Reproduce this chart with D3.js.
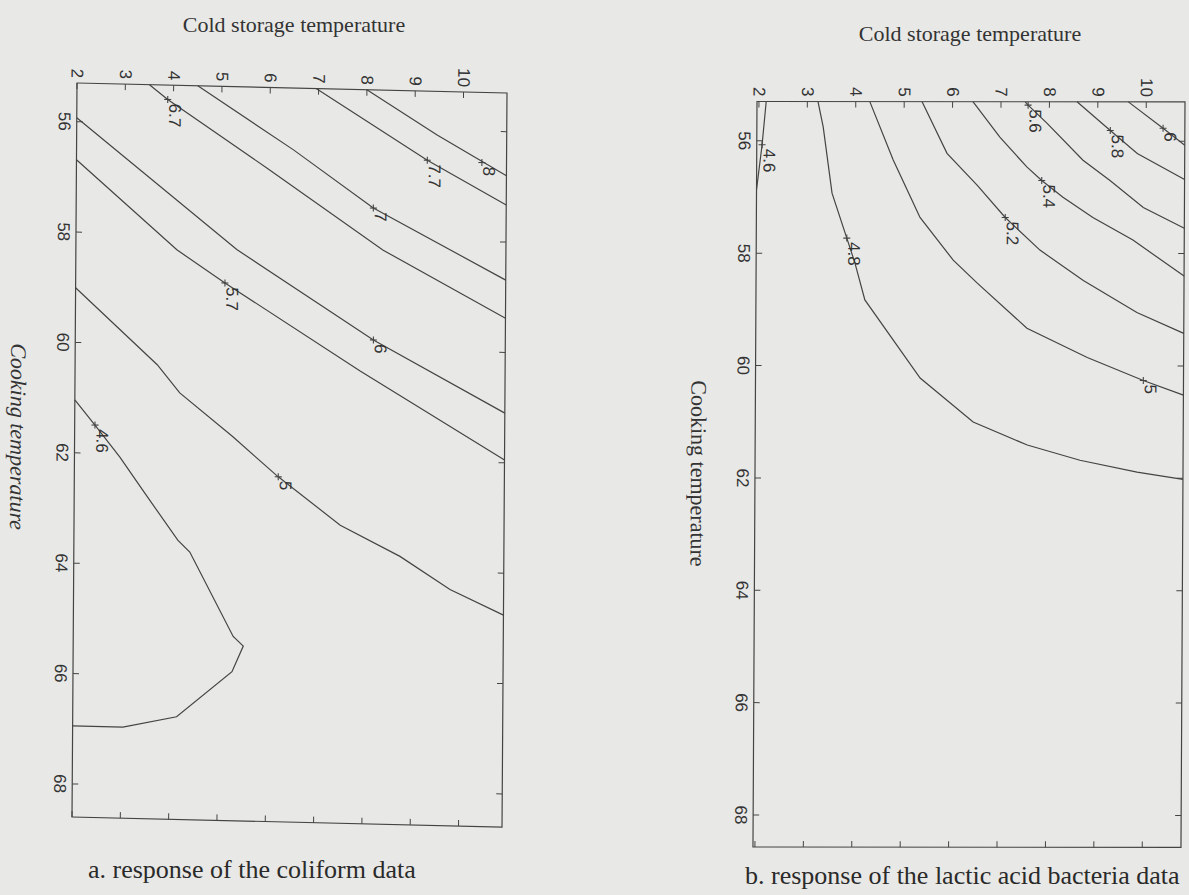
<!DOCTYPE html>
<html><head><meta charset="utf-8">
<script src="https://cdn.jsdelivr.net/npm/d3@7"></script>
<style>body{margin:0;background:#e8e8e6}svg{display:block}</style></head>
<body><svg id="c" width="1189" height="895"></svg>
<script>
// ---- data (cooking temperature, cold storage temperature) ----
const coldTicks = [2,3,4,5,6,7,8,9,10];
const cookTicks = [56,58,60,62,64,66,68];

// a. coliform contours
const coli_8   = [[55.3,8.0],[56.09,9.46],[56.8,10.9]];
const coli_7_7 = [[55.3,6.95],[56.55,9.26],[57.33,10.9]];
const coli_7   = [[55.3,4.5],[56.42,6.49],[57.44,8.15],[58.69,10.9]];
const coli_6_7 = [[55.3,3.5],[55.56,3.88],[56.76,5.94],[58.2,8.36],[59.38,10.9]];
const coli_6   = [[55.93,2],[58.25,5.33],[59.83,8.17],[61.1,10.9]];
const coli_5_7 = [[56.69,2],[58.28,4.09],[58.86,5.09],[60.4,7.9],[61.95,10.9]];
const coli_5   = [[59.01,2],[60.37,3.7],[60.87,4.17],[61.64,5.27],[62.35,6.22],[63.2,7.51],[63.74,8.75],[64.32,9.79],[64.76,10.9]];
const coli_4_6 = [[61.04,2],[61.49,2.42],[62.06,2.94],[62.64,3.41],[63.54,4.15],[63.75,4.4],[65.26,5.31],[65.43,5.52],[65.9,5.29],[66.74,4.15],[66.95,3.04],[66.95,2]];
const coliLines = [coli_8, coli_7_7, coli_7, coli_6_7, coli_6, coli_5_7, coli_5, coli_4_6];
const coliLabels = [
  {t:"8",   p:[56.57,10.39]}, {t:"7.7", p:[56.55,9.26]}, {t:"7", p:[57.44,8.15]},
  {t:"6.7", p:[55.56,3.88]},  {t:"6",   p:[59.83,8.17]}, {t:"5.7", p:[58.86,5.09]},
  {t:"5",   p:[62.35,6.22]},  {t:"4.6", p:[61.49,2.42]}
];

// b. lactic acid bacteria contours
const lab_4_6 = [[55.3,2.15],[56.07,2.07],[56.87,1.96]];
const lab_4_8 = [[55.3,3.22],[55.75,3.33],[56.93,3.52],[57.73,3.83],[58.17,4.0],[58.83,4.21],[60.22,5.36],[61.0,6.46],[61.41,7.58],[61.68,8.67],[61.89,9.85],[62.02,10.8]];
const lab_5_0 = [[55.3,4.29],[56.34,4.78],[57.05,5.17],[57.36,5.34],[58.12,6.03],[58.53,6.53],[59.33,7.56],[59.85,8.81],[60.26,9.97],[60.52,10.8]];
const lab_5_2 = [[55.3,5.37],[56.22,5.89],[56.79,6.52],[57.36,7.1],[57.94,7.82],[58.48,8.72],[59.05,9.83],[59.42,10.8]];
const lab_5_4 = [[55.3,6.42],[55.93,6.98],[56.46,7.54],[56.7,7.85],[57.0,8.29],[57.36,8.91],[57.76,9.74],[58.4,10.8]];
const lab_5_6 = [[55.3,7.5],[55.36,7.56],[55.68,7.95],[56.34,8.7],[56.7,9.26],[57.18,9.95],[57.55,10.8]];
const lab_5_8 = [[55.3,8.57],[55.81,9.26],[56.22,9.82],[56.68,10.8]];
const lab_6_0 = [[55.3,9.63],[55.77,10.35],[56.07,10.8]];
const labLines = [lab_4_6, lab_4_8, lab_5_0, lab_5_2, lab_5_4, lab_5_6, lab_5_8, lab_6_0];
const labLabels = [
  {t:"4.6", p:[56.07,2.07]}, {t:"4.8", p:[57.73,3.83]}, {t:"5",   p:[60.26,9.97]},
  {t:"5.2", p:[57.36,7.1]},  {t:"5.4", p:[56.7,7.85]},  {t:"5.6", p:[55.36,7.56]},
  {t:"5.8", p:[55.81,9.26]}, {t:"6",   p:[55.77,10.35]}
];

const xTitle = "Cold storage temperature";
const yTitle = "Cooking temperature";
const captions = ["a. response of the coliform data", "b. response of the lactic acid bacteria data"];

// ---- drawing ----
const svg = d3.select("#c");
const INK = "#444";
const sans = "'Liberation Sans', Arial, sans-serif";
const serif = "'Liberation Serif', 'Times New Roman', serif";

function panel(cfg) {
  const g = svg.append("g")
    .attr("transform", `matrix(1,${cfg.b},${cfg.c},1,${cfg.X0},${cfg.Y0})`);
  const x = d3.scaleLinear().domain(cfg.coldDom).range([0, cfg.W]);
  const y = d3.scaleLinear().domain(cfg.cookDom).range([0, cfg.H]);

  g.append("rect").attr("width", cfg.W).attr("height", cfg.H)
    .attr("fill", "none").attr("stroke", INK).attr("stroke-width", 1.2);

  const tk = 6;
  coldTicks.forEach(t => {
    g.append("line").attr("x1", x(t)).attr("x2", x(t)).attr("y1", 0).attr("y2", tk)
      .attr("stroke", INK).attr("stroke-width", 1);
    g.append("line").attr("x1", x(t)).attr("x2", x(t)).attr("y1", cfg.H).attr("y2", cfg.H - tk)
      .attr("stroke", INK).attr("stroke-width", 1);
    g.append("text").attr("transform", `translate(${x(t)},-5) rotate(90)`)
      .attr("text-anchor", "end").attr("dominant-baseline", "central")
      .attr("font-family", sans).attr("font-size", 17).attr("fill", "#333").text(t);
  });
  cookTicks.forEach(t => {
    g.append("line").attr("x1", 0).attr("x2", tk).attr("y1", y(t)).attr("y2", y(t))
      .attr("stroke", INK).attr("stroke-width", 1);
    g.append("line").attr("x1", cfg.W).attr("x2", cfg.W - tk).attr("y1", y(t)).attr("y2", y(t))
      .attr("stroke", INK).attr("stroke-width", 1);
    g.append("text").attr("transform", `translate(-18,${y(t)}) rotate(90)`)
      .attr("text-anchor", "middle")
      .attr("font-family", sans).attr("font-size", 17).attr("fill", "#333").text(t);
  });

  const line = d3.line().x(d => x(d[1])).y(d => y(d[0]));
  g.selectAll("path.ct").data(cfg.lines).enter().append("path").attr("class", "ct")
    .attr("d", line).attr("fill", "none").attr("stroke", INK).attr("stroke-width", 1.2);

  cfg.labels.forEach(l => {
    const px = x(l.p[1]), py = y(l.p[0]);
    g.append("path").attr("d", `M${px-3.5},${py}h7M${px},${py-3.5}v7`)
      .attr("stroke", INK).attr("stroke-width", 1.1);
    g.append("text").attr("transform", `translate(${px+1.5},${py+4}) rotate(90)`)
      .attr("font-family", sans).attr("font-size", 17).attr("fill", "#333").text(l.t);
  });

  g.append("text").attr("transform", `translate(-64,${cfg.yTitleAt}) rotate(90)`)
    .attr("text-anchor", "middle").attr("font-family", serif).attr("font-size", 22)
    .attr("font-style", cfg.italic ? "italic" : "normal").attr("fill", "#333").text(yTitle);

  svg.append("text").attr("x", cfg.titleX).attr("y", cfg.titleY).attr("text-anchor", "middle")
    .attr("font-family", serif).attr("font-size", 22).attr("fill", "#333").text(xTitle);
  svg.append("text").attr("x", cfg.capX).attr("y", cfg.capY)
    .attr("font-family", serif).attr("font-size", 26).attr("fill", "#2a2a2a").text(cfg.caption);
}

panel({X0:77, Y0:83, W:430, H:734, b:0.0233, c:-0.0068,
  coldDom:[2,10.9], cookDom:[55.3,68.6], lines:coliLines, labels:coliLabels, italic:true,
  yTitleAt:355, titleX:294, titleY:32, capX:88, capY:878, caption:captions[0]});
panel({X0:757, Y0:101.5, W:428, H:745.5, b:0.001, c:-0.0054,
  coldDom:[1.96,10.8], cookDom:[55.3,68.57], lines:labLines, labels:labLabels, italic:false,
  yTitleAt:372, titleX:970, titleY:41, capX:745, capY:884, caption:captions[1]});
</script></body></html>
